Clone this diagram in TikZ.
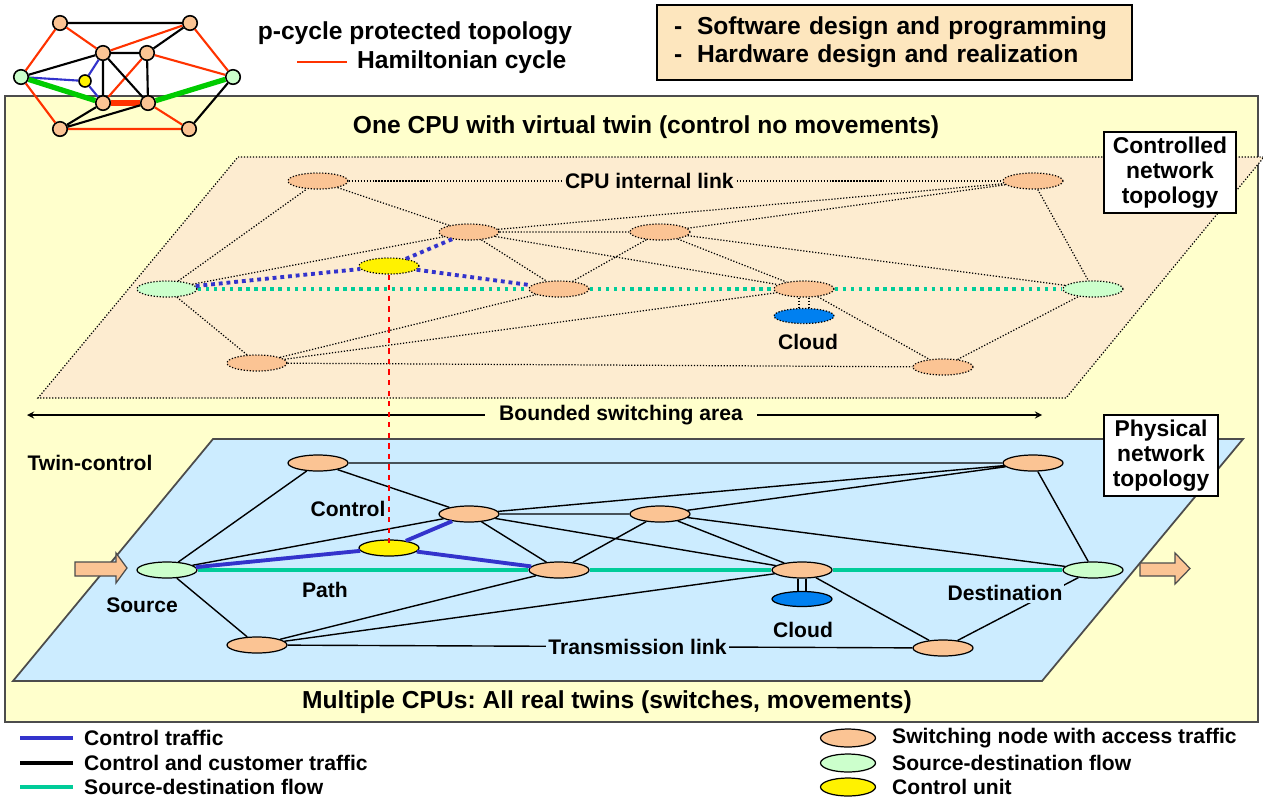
\documentclass[tikz,border=0pt]{standalone}
\usepackage{fontspec}
\setmainfont{Liberation Sans}
\usepackage{xcolor}
\usetikzlibrary{arrows}
\usetikzlibrary{shapes.geometric}
\definecolor{jaune}{RGB}{255,255,204}
\definecolor{peche}{RGB}{251,196,148}
\definecolor{pechepale}{RGB}{253,236,208}
\definecolor{bleuciel}{RGB}{204,236,255}
\definecolor{vertpale}{RGB}{204,255,204}
\definecolor{nuage}{RGB}{0,128,240}
\definecolor{bleuctrl}{RGB}{51,51,204}
\definecolor{vertflux}{RGB}{0,204,153}
\definecolor{rougeham}{RGB}{255,51,0}
\definecolor{vertham}{RGB}{0,204,0}
\definecolor{boite}{RGB}{253,230,190}
\frenchspacing

\begin{document}
\begin{tikzpicture}[x=0.02cm,y=-0.02cm,
    titre/.style={font=\fontsize{14}{16}\selectfont\bfseries},
    etiq/.style={font=\fontsize{12}{14}\selectfont\bfseries},
    cadre/.style={draw, line width=0.9pt, fill=white, align=center, inner sep=0pt, font=\fontsize{13}{14.2}\selectfont\bfseries},
    noeud/.style={ellipse, draw, fill=peche, minimum width=1.2cm, minimum height=0.32cm, inner sep=0pt, line width=0.7pt},
    noeudv/.style={noeud, densely dotted},
    lienv/.style={densely dotted, line width=0.7pt},
    lienp/.style={line width=0.8pt},
    ctrlv/.style={bleuctrl, line width=2.2pt, dash pattern=on 2.2pt off 2.2pt},
    ctrlp/.style={bleuctrl, line width=2.2pt},
    fluxv/.style={vertflux, line width=2pt, dash pattern=on 2pt off 2.6pt},
    fluxp/.style={vertflux, line width=1.8pt},
    rond/.style={circle, draw, fill=peche, minimum size=0.29cm, inner sep=0pt, line width=0.9pt}]
    \useasboundingbox (0,0) rectangle (1263,801);
    % fond jaune
    \draw[fill=jaune, draw=gray!60!black, line width=1pt] (5,96) rectangle (1258,722);
    % plans
    \draw[densely dotted, line width=0.7pt, fill=pechepale] (238,157) -- (1264,157) -- (1066,398) -- (38,398) -- cycle;
    \draw[fill=bleuciel, draw=gray!60!black, line width=1pt] (213,439) -- (1243,439) -- (1042,681) -- (13,681) -- cycle;

    % petit graphe p-cycle
    \node[rond] (mTL) at (60,23) {};
    \node[rond] (mTR) at (190,23) {};
    \node[rond] (mUL) at (103,53) {};
    \node[rond] (mUR) at (147,53) {};
    \node[rond, fill=vertpale] (mGl) at (21,77) {};
    \node[rond, fill=vertpale] (mGr) at (233,77) {};
    \node[rond, fill=yellow, minimum size=0.24cm] (mY) at (85,81) {};
    \node[rond] (mLL) at (103,103) {};
    \node[rond] (mLR) at (148,103) {};
    \node[rond] (mBL) at (60,129) {};
    \node[rond] (mBR) at (189,129) {};
    \draw[rougeham, line width=1.2pt] (mTL)--(mGl) (mTL)--(mUL) (mTR)--(mUL) (mTR)--(mGr) (mUR)--(mLL) (mUR)--(mGr) (mGl)--(mBL) (mBL)--(mBR) (mLR)--(mBR);
    \draw[rougeham, line width=3pt] (mLL)--(mLR);
    \draw[line width=1.2pt] (mTL)--(mTR) (mTR)--(mUR) (mUL)--(mUR) (mUL)--(mGl) (mUL)--(mLL) (mUL)--(mLR) (mUR)--(mLR) (mLL)--(mBL) (mLR)--(mBL) (mGr)--(mBR);
    \draw[bleuctrl, line width=1.2pt] (mUL)--(mY) (mGl)--(mY) (mY)--(mLL);
    \draw[vertham, line width=3pt] (mGl)--(mLL) (mLR)--(mGr);
    \node[titre] (pcyc) at (415,33) {p-cycle protected topology};
    \node[titre, anchor=west] (ham) at (351,62) {Hamiltonian cycle};
    \coordinate (h1) at (297,62);
    \coordinate (h2) at (347,62);
    \draw[rougeham, line width=1.2pt] (h1) -- (h2);
    \node[draw, line width=0.9pt, fill=boite, titre, align=left, minimum width=9.5cm, minimum height=1.5cm, text width=8.82cm, inner xsep=0.34cm] (tache) at (894.5,42.5) {-\hspace{0.6em}Software design and programming\\-\hspace{0.6em}Hardware design and realization};

    \node[titre] (haut) at (646,127) {One CPU with virtual twin (control no movements)};
    \node[titre] (bas) at (607,702) {Multiple CPUs: All real twins (switches, movements)};

    %plan du haut (jumeau virtuel)
    \node[noeudv] (uA) at (318,181) {};
    \node[noeudv] (uB) at (469,232) {};
    \node[noeudv] (uC) at (660,232) {};
    \node[noeudv] (uD) at (1033,181) {};
    \node[noeudv, fill=vertpale] (uS) at (167,289) {};
    \node[noeudv, fill=yellow] (uY) at (389,266) {};
    \node[noeudv] (uE) at (559,289) {};
    \node[noeudv] (uF) at (804,289) {};
    \node[noeudv, fill=vertpale] (uT) at (1093,289) {};
    \node[noeudv] (uG) at (257,363) {};
    \node[noeudv] (uH) at (943,367) {};
    \node[noeudv, fill=nuage, minimum height=0.3cm] (uK) at (804,316) {};
    \draw[lienv] (uA) -- (uD) node[pos=0.46, fill=pechepale, etiq, inner sep=1.5pt, text=black, solid] {CPU internal link};
    \draw[lienv] (uS)--(uA) (uA)--(uB) (uS)--(uB) (uB)--(uC) (uB)--(uE) (uB)--(uD) (uB)--(uF) (uC)--(uD) (uC)--(uE) (uC)--(uF) (uC)--(uT) (uD)--(uT) (uS)--(uG) (uG)--(uE) (uG)--(uF) (uG)--(uH) (uF)--(uH) (uH)--(uT);
    \draw[lienv] ([xshift=-0.1cm]uF.south) -- ([xshift=-0.1cm]uK.north) ([xshift=0.1cm]uF.south) -- ([xshift=0.1cm]uK.north);
    \draw[fluxv] (uS)--(uE) (uE)--(uF) (uF)--(uT);
    \draw[ctrlv] (uS)--(uY) (uY)--(uB) (uY)--(uE);
    \node[etiq] (cloudh) at (808,342) {Cloud};
    \node[cadre, minimum width=2.64cm, minimum height=1.62cm] (ctrlbox) at (1170,172.5) {Controlled\\network\\topology};

    % zone bornee
    \node[etiq, inner xsep=8pt] (borne) at (621,415) {Bounded switching area};
    \coordinate (bg) at (27,415);
    \coordinate (bd) at (1042,415);
    \draw[-stealth, line width=0.8pt] (borne.west) -- (bg);
    \draw[-stealth, line width=0.8pt] (borne.east) -- (bd);

    %plan du bas (jumeaux reels)
    \node[noeud] (lA) at (318,463) {};
    \node[noeud] (lB) at (469,514) {};
    \node[noeud] (lC) at (660,514) {};
    \node[noeud] (lD) at (1033,463) {};
    \node[noeud, fill=vertpale] (lS) at (167,570) {};
    \node[noeud, fill=yellow] (lY) at (389,548) {};
    \node[noeud] (lE) at (559,570) {};
    \node[noeud] (lF) at (802,570) {};
    \node[noeud, fill=vertpale] (lT) at (1093,570) {};
    \node[noeud] (lG) at (257,645) {};
    \node[noeud] (lH) at (943,648) {};
    \node[noeud, fill=nuage, minimum height=0.3cm] (lK) at (802,599) {};
    \draw[lienp] (lG) -- (lH) node[pos=0.56, fill=bleuciel, etiq, inner sep=1.5pt] {Transmission link};
    \draw[lienp] (lA)--(lD) (lS)--(lA) (lA)--(lB) (lS)--(lB) (lB)--(lC) (lB)--(lE) (lB)--(lD) (lB)--(lF) (lC)--(lD) (lC)--(lE) (lC)--(lF) (lC)--(lT) (lD)--(lT) (lS)--(lG) (lG)--(lE) (lG)--(lF) (lF)--(lH) (lH)--(lT);
    \draw[lienp] ([xshift=-0.08cm]lF.south) -- ([xshift=-0.08cm]lK.north) ([xshift=0.08cm]lF.south) -- ([xshift=0.08cm]lK.north);
    \draw[fluxp] (lS)--(lE) (lE)--(lF) (lF)--(lT);
    \draw[ctrlp] (lS)--(lY) (lY)--(lB) (lY)--(lE);
    \node[etiq] (twin) at (90,463) {Twin-control};
    \node[etiq] (ctl) at (348,509) {Control};
    \node[etiq] (path) at (325,590) {Path};
    \node[etiq] (src) at (142,605) {Source};
    \node[etiq] (cloudb) at (803,630) {Cloud};
    \node[etiq, fill=bleuciel, inner sep=1pt] (dest) at (1005,593) {Destination};
    \node[cadre, minimum width=2.28cm, minimum height=1.62cm] (physbox) at (1161,455.5) {Physical\\network\\topology};
    % fleches entree / sortie
    \filldraw[fill=peche, draw=gray!60!black, line width=0.7pt] (75,562) -- (116,562) -- (116,553) -- (127,568) -- (116,583) -- (116,576) -- (75,576) -- cycle;
    \filldraw[fill=peche, draw=gray!60!black, line width=0.7pt] (1140,563) -- (1175,563) -- (1175,553) -- (1190,568.5) -- (1175,584) -- (1175,576) -- (1140,576) -- cycle;

    % lien virtuel -> reel
    \draw[red, dashed, line width=0.8pt] (uY.south) -- (lY.center);

    % legende
    \coordinate (l1a) at (20,738);  \coordinate (l1b) at (73,738);
    \coordinate (l2a) at (20,763);  \coordinate (l2b) at (73,763);
    \coordinate (l3a) at (20,787);  \coordinate (l3b) at (73,787);
    \draw[bleuctrl, line width=2.4pt] (l1a) -- (l1b);
    \draw[line width=2.4pt] (l2a) -- (l2b);
    \draw[vertflux, line width=2.4pt] (l3a) -- (l3b);
    \node[etiq, anchor=west] (lg1) at (78,738) {Control traffic};
    \node[etiq, anchor=west] (lg2) at (78,763) {Control and customer traffic};
    \node[etiq, anchor=west] (lg3) at (78,787) {Source-destination flow};
    \node[noeud, minimum width=1.1cm, minimum height=0.36cm] (le1) at (848,738) {};
    \node[noeud, minimum width=1.1cm, minimum height=0.36cm, fill=vertpale] (le2) at (848,763) {};
    \node[noeud, minimum width=1.1cm, minimum height=0.36cm, fill=yellow] (le3) at (848,787) {};
    \node[etiq, anchor=west] (lg4) at (886,738) {Switching node with access traffic};
    \node[etiq, anchor=west] (lg5) at (886,763) {Source-destination flow};
    \node[etiq, anchor=west] (lg6) at (886,787) {Control unit};
\end{tikzpicture}
\end{document}
